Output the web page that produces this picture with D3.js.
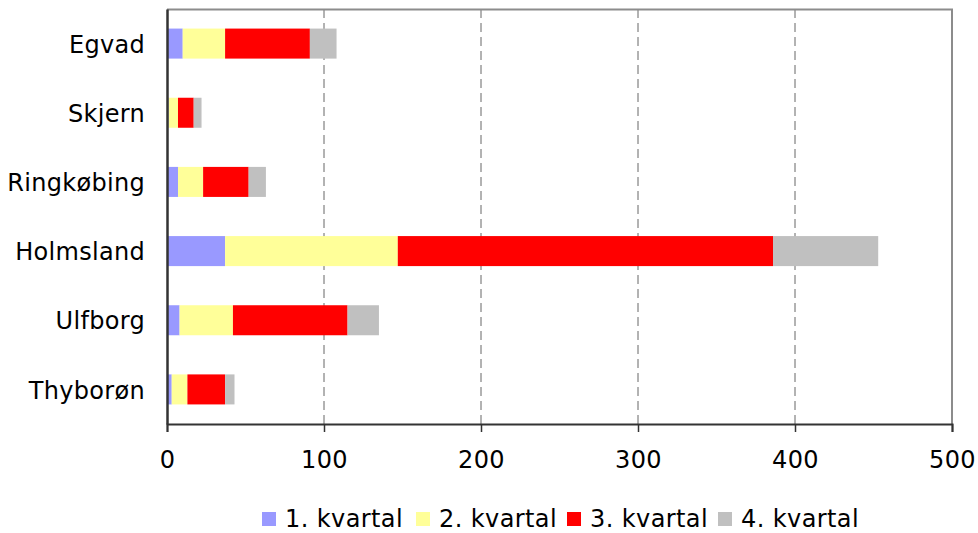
<!DOCTYPE html>
<html>
<head>
<meta charset="utf-8">
<script src="https://cdn.jsdelivr.net/npm/d3@7"></script>
<style>
  html, body { margin: 0; padding: 0; background: #fff; }
  svg { display: block; font-family: "DejaVu Sans", Verdana, sans-serif; }
</style>
</head>
<body>
<svg id="chart" width="978" height="533"></svg>
<script>
// Kommuner (top to bottom)
const categories = ["Egvad", "Skjern", "Ringkøbing", "Holmsland", "Ulfborg", "Thyborøn"];
// Series per quarter
const seriesNames = ["1. kvartal", "2. kvartal", "3. kvartal", "4. kvartal"];
const q1 = [10, 1, 7, 37, 8, 3];
const q2 = [27, 6, 16, 110, 34, 10];
const q3 = [54, 10, 29, 239, 73, 24];
const q4 = [17, 5, 11, 67, 20, 6];
const xTicks = [0, 100, 200, 300, 400, 500];
const colors = ["#9999FF", "#FFFF99", "#FF0000", "#C0C0C0"];

const svg = d3.select("#chart");
const margin = { left: 167, right: 26, top: 9, bottom: 109 };
const W = 978, H = 533;
const iw = W - margin.left - margin.right;
const ih = H - margin.top - margin.bottom;
const fontFamily = "DejaVu Sans, Verdana, sans-serif";

const rows = categories.map((c, i) => ({ name: c, "1. kvartal": q1[i], "2. kvartal": q2[i], "3. kvartal": q3[i], "4. kvartal": q4[i] }));
const stacked = d3.stack().keys(seriesNames)(rows);

const x = d3.scaleLinear().domain([0, 500]).range([0, iw]);
const y = d3.scaleBand().domain(categories).range([0, ih]).paddingInner(0.566).paddingOuter(0.283);

const g = svg.append("g").attr("transform", `translate(${margin.left},${margin.top})`);

// dashed gridlines
g.append("g").selectAll("line").data(xTicks.filter(t => t > 0 && t < 500)).join("line")
  .attr("x1", d => x(d)).attr("x2", d => x(d))
  .attr("y1", 0).attr("y2", ih)
  .attr("stroke", "#666").attr("stroke-width", 1).attr("stroke-dasharray", "9,5");

// plot frame (top and right)
g.append("path")
  .attr("d", `M0,0.5H${iw}V${ih}`)
  .attr("fill", "none").attr("stroke", "#8c8c8c").attr("stroke-width", 2);

// stacked bars
g.append("g").selectAll("g").data(stacked).join("g")
  .attr("fill", (d, i) => colors[i])
  .selectAll("rect").data(d => d).join("rect")
  .attr("x", d => x(d[0]))
  .attr("width", d => x(d[1]) - x(d[0]))
  .attr("y", d => y(d.data.name))
  .attr("height", y.bandwidth());

// x axis
const xAxis = g.append("g").attr("transform", `translate(0,${ih})`)
  .call(d3.axisBottom(x).tickValues(xTicks).tickSize(8).tickPadding(19).tickFormat(d3.format("d")));
xAxis.select(".domain").attr("stroke", "#333").attr("stroke-width", 2);
xAxis.selectAll(".tick line").attr("stroke", "#333").attr("stroke-width", 1.5);
xAxis.selectAll("text").attr("font-size", 24).attr("fill", "#000")
  .attr("font-family", fontFamily).attr("letter-spacing", "0.4px");

// y axis
const yAxis = g.append("g")
  .call(d3.axisLeft(y).tickSize(0).tickPadding(22));
yAxis.select(".domain").attr("stroke", "#333").attr("stroke-width", 2.5);
yAxis.selectAll("text").attr("font-size", 24).attr("fill", "#000")
  .attr("font-family", fontFamily).attr("letter-spacing", "0.3px").attr("dy", "0.38em");

// legend
const legendX = [262, 416, 567, 718];
const legend = svg.append("g");
seriesNames.forEach((s, i) => {
  legend.append("rect").attr("x", legendX[i]).attr("y", 512).attr("width", 14).attr("height", 14).attr("fill", colors[i]);
  legend.append("text").attr("x", legendX[i] + 23).attr("y", 527)
    .attr("font-size", 24).attr("letter-spacing", "0.4px").attr("fill", "#000").text(s);
});
</script>
</body>
</html>
